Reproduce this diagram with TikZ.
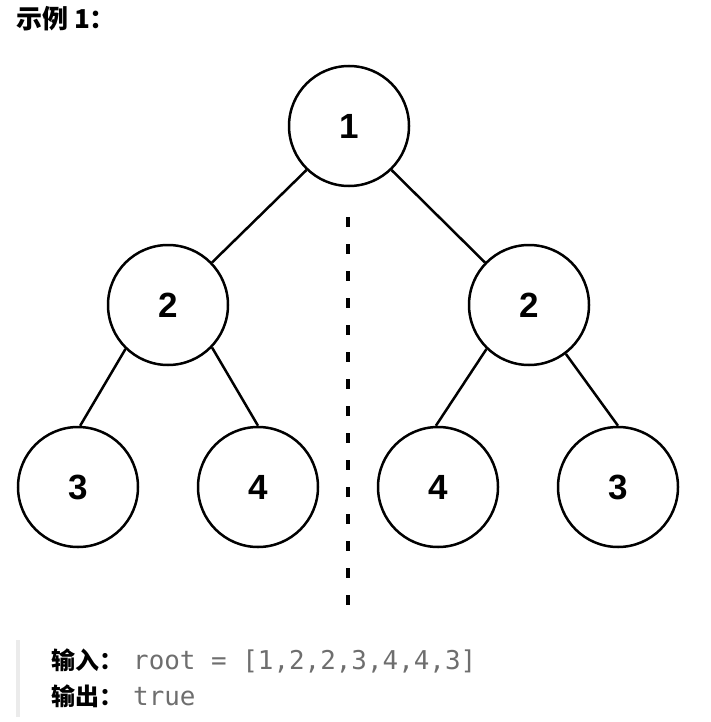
\documentclass[tikz,border=0pt]{standalone}
\usepackage{fontspec}
\newfontfamily\cjk{Noto Sans CJK SC}
\newfontfamily\arialf{Liberation Sans}
\newfontfamily\monof{DejaVu Sans Mono}
\definecolor{codegray}{HTML}{6E6E6E}
\definecolor{bargray}{HTML}{EBEBEB}
\tikzset{
  tnode/.style={circle,draw=black,line width=2.5pt,minimum size=120pt,inner sep=0pt,font=\arialf\bfseries\fontsize{35}{35}\selectfont},
  tedge/.style={line width=2.5pt,draw=black},
  mirror/.style={line width=3.5pt,draw=black,dash pattern=on 10pt off 17pt}
}
\begin{document}
\begin{tikzpicture}[x=1pt,y=-1pt]
\useasboundingbox (0,0) rectangle (711,722);
\node[anchor=base west,inner sep=0pt,font=\cjk\bfseries\fontsize{26}{26}\selectfont] (title) at (16,29) {示例 1：};
\node[tnode] (n1) at (349,126) {1};
\node[tnode] (l2) at (168,305) {2};
\node[tnode] (r2) at (529,305) {2};
\node[tnode] (la) at (78,487) {3};
\node[tnode] (lb) at (258,487) {4};
\node[tnode] (rc) at (438,487) {4};
\node[tnode] (rd) at (618,487) {3};
\draw[tedge] (n1.226) -- (l2.44);
\draw[tedge] (n1.314) -- (r2.136);
\draw[tedge] (l2.226) -- (la.88);
\draw[tedge] (l2.316) -- (lb.90);
\draw[tedge] (r2.226) -- (rc.92);
\draw[tedge] (r2.307) -- (rd.90);
\coordinate (mtop) at (348,217);
\coordinate (mbot) at (348,606);
\draw[mirror] (mtop) -- (mbot);
\fill[bargray] (16,640) rectangle (20,717);
\node[anchor=base west,inner sep=0pt,font=\cjk\bfseries\fontsize{24}{24}\selectfont] (in) at (51,669) {输入：};
\node[anchor=base west,inner sep=0pt,font=\monof\fontsize{25.9}{25.9}\selectfont,text=codegray] (inv) at (133,669) {root = [1,2,2,3,4,4,3]};
\node[anchor=base west,inner sep=0pt,font=\cjk\bfseries\fontsize{24}{24}\selectfont] (out) at (51,705) {输出：};
\node[anchor=base west,inner sep=0pt,font=\monof\fontsize{25.9}{25.9}\selectfont,text=codegray] (outv) at (133,705) {true};
\end{tikzpicture}
\end{document}
